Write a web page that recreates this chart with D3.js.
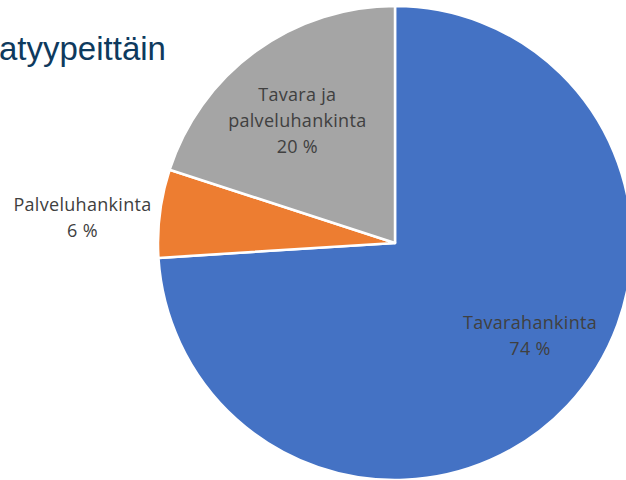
<!DOCTYPE html>
<html lang="fi">
<head>
  <meta charset="UTF-8">
  <script src="https://d3js.org/d3.v7.min.js"></script>
  <title>Hankinnat hankintatyypeittäin</title>
  <style>
    html, body { margin:0; padding:0; background:#fff; overflow:hidden; }
  </style>
</head>
<body>
  <svg id="chart" style="width:626px;height:480px;display:block"></svg>
  <script>
    // data
    const categories = ["Tavarahankinta", "Palveluhankinta", "Tavara ja palveluhankinta"];
    const shares = [74, 6, 20];
    const colors = ["#4472C4", "#ED7D31", "#A5A5A5"];
    // label text lines per slice
    const labelLines = [
      ["Tavarahankinta", "74 %"],
      ["Palveluhankinta", "6 %"],
      ["Tavara ja", "palveluhankinta", "20 %"]
    ];
    // where Excel put the labels, relative to the pie centre
    const labelRadius = [166, 313, 156];
    const labelNudge = [[14, -17], [-2, 18], [-6, 8]];

    const svg = d3.select("#chart");
    const cx = 395, cy = 243, r = 237;

    // title (cut off on the left in the original)
    svg.append("text")
      .attr("x", -1)
      .attr("y", 60)
      .attr("font-family", "Liberation Sans, Arial, sans-serif")
      .attr("font-size", 33)
      .attr("fill", "#0E3A5E")
      .text("atyypeittäin");

    const pie = d3.pie().sort(null).value(d => d);
    const arcs = pie(shares);
    const arc = d3.arc().innerRadius(0).outerRadius(r);

    const g = svg.append("g").attr("transform", `translate(${cx},${cy})`);

    g.selectAll("path")
      .data(arcs)
      .enter()
      .append("path")
      .attr("d", arc)
      .attr("fill", (d, i) => colors[i])
      .attr("stroke", "#fff")
      .attr("stroke-width", 2.5)
      .attr("stroke-linejoin", "round");

    // labels
    const lineH = 26;
    const lab = g.selectAll("text.lab")
      .data(arcs)
      .enter()
      .append("text")
      .attr("class", "lab")
      .attr("text-anchor", "middle")
      .attr("font-family", "Open Sans, Noto Sans, sans-serif")
      .attr("font-size", 18)
      .attr("letter-spacing", 0.3)
      .attr("fill", "#404040")
      .attr("transform", (d, i) => {
        const a = (d.startAngle + d.endAngle) / 2;
        const lr = labelRadius[i];
        const x = Math.sin(a) * lr + labelNudge[i][0];
        const y = -Math.cos(a) * lr + labelNudge[i][1];
        const n = labelLines[i].length;
        return `translate(${x},${y - (n - 1) * lineH / 2 + 2})`;
      });

    lab.selectAll("tspan")
      .data((d, i) => labelLines[i])
      .enter()
      .append("tspan")
      .attr("x", 0)
      .attr("dy", (d, j) => j === 0 ? 0 : lineH)
      .text(d => d);
  </script>
</body>
</html>
